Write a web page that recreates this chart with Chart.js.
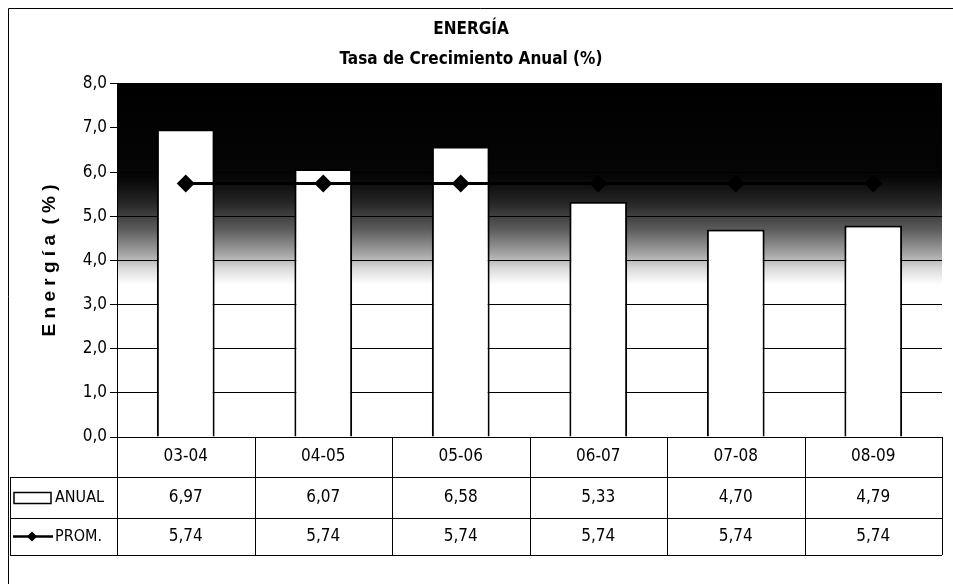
<!DOCTYPE html>
<html>
<head>
<meta charset="utf-8">
<script src="https://cdn.jsdelivr.net/npm/chart.js@4"></script>
<style>
  html, body { margin: 0; padding: 0; background: #fff; }
  #wrap { width: 953px; height: 584px; }
</style>
</head>
<body>
<div id="wrap"><canvas id="energyChart" width="953" height="584"></canvas></div>
<script>
const periods = ["03-04", "04-05", "05-06", "06-07", "07-08", "08-09"];
const anual = [6.97, 6.07, 6.58, 5.33, 4.70, 4.79];
const prom = [5.74, 5.74, 5.74, 5.74, 5.74, 5.74];
const yTicks = [0, 1, 2, 3, 4, 5, 6, 7, 8];

const narrow = "'Liberation Sans Narrow', 'Arial Narrow', 'DejaVu Sans Condensed', Arial, sans-serif";
const fmt = v => v.toFixed(1).replace('.', ',');
const fmt2 = v => v.toFixed(2).replace('.', ',');

// white page + dark-to-white gradient in the plot area
const backdrop = {
    id: 'backdrop',
    beforeDraw(chart) {
        const { ctx, chartArea: a, scales: { y } } = chart;
        ctx.save();
        ctx.fillStyle = '#fff';
        ctx.fillRect(0, 0, chart.width, chart.height);
        const top = 8, low = 3.45, span = top - low;
        const g = ctx.createLinearGradient(0, y.getPixelForValue(top), 0, y.getPixelForValue(low));
        g.addColorStop(0, '#000');
        g.addColorStop((top - 5.9) / span, '#050505');
        g.addColorStop((top - 5.3) / span, '#262626');
        g.addColorStop((top - 4.7) / span, '#5c5c5c');
        g.addColorStop((top - 4.15) / span, '#a4a4a4');
        g.addColorStop((top - 3.8) / span, '#dcdcdc');
        g.addColorStop(1, '#fff');
        ctx.fillStyle = g;
        ctx.fillRect(a.left, a.top, a.right - a.left, a.bottom - a.top);
        ctx.restore();
    }
};

// data table under the plot + frame
const dataTable = {
    id: 'dataTable',
    afterDraw(chart) {
        const { ctx, chartArea: a, scales: { x } } = chart;
        const colW = (a.right - a.left) / periods.length;
        const rows = [a.bottom, a.bottom + 40, a.bottom + 81, a.bottom + 118];
        const legLeft = 10;
        ctx.save();
        ctx.strokeStyle = '#000';
        ctx.lineWidth = 1;
        ctx.beginPath();
        // horizontal rules
        ctx.moveTo(a.left, rows[0] + 0.5); ctx.lineTo(a.right, rows[0] + 0.5);
        for (let r = 1; r < rows.length; r++) {
            ctx.moveTo(legLeft, rows[r] + 0.5); ctx.lineTo(a.right, rows[r] + 0.5);
        }
        // vertical rules
        for (let i = 0; i <= periods.length; i++) {
            const px = Math.round(a.left + i * colW) + 0.5;
            ctx.moveTo(px, rows[0]); ctx.lineTo(px, rows[3]);
        }
        ctx.moveTo(legLeft + 0.5, rows[1]); ctx.lineTo(legLeft + 0.5, rows[3]);
        // outer frame (top and left)
        ctx.moveTo(8.5, 8.5); ctx.lineTo(953, 8.5);
        ctx.moveTo(8.5, 8.5); ctx.lineTo(8.5, 584);
        ctx.stroke();

        ctx.fillStyle = '#000';
        ctx.font = '17px ' + narrow;
        ctx.textAlign = 'center';
        ctx.textBaseline = 'middle';
        periods.forEach((p, i) => {
            const cx = x.getPixelForValue(i);
            ctx.fillText(p, cx, (rows[0] + rows[1]) / 2);
            ctx.fillText(fmt2(anual[i]), cx, (rows[1] + rows[2]) / 2);
            ctx.fillText(fmt2(prom[i]), cx, (rows[2] + rows[3]) / 2);
        });

        // legend keys
        const my1 = (rows[1] + rows[2]) / 2, my2 = (rows[2] + rows[3]) / 2;
        ctx.lineWidth = 1.5;
        ctx.strokeRect(14, my1 - 5, 37, 11);
        ctx.lineWidth = 2.5;
        ctx.beginPath();
        ctx.moveTo(13, my2); ctx.lineTo(53, my2);
        ctx.stroke();
        ctx.beginPath();
        ctx.moveTo(32, my2 - 5); ctx.lineTo(37, my2); ctx.lineTo(32, my2 + 5); ctx.lineTo(27, my2);
        ctx.closePath();
        ctx.fill();
        ctx.textAlign = 'left';
        ctx.font = '16px ' + narrow;
        ctx.fillText('ANUAL', 55, my1);
        ctx.fillText('PROM.', 55, my2);
        ctx.restore();
    }
};

new Chart(document.getElementById('energyChart'), {
    type: 'bar',
    data: {
        labels: periods,
        datasets: [{
            label: 'ANUAL',
            data: anual,
            backgroundColor: '#fff',
            borderColor: '#000',
            borderWidth: 2,
            categoryPercentage: 1,
            barPercentage: 0.42,
            order: 2
        }, {
            type: 'line',
            label: 'PROM.',
            data: prom,
            borderColor: '#000',
            backgroundColor: '#000',
            borderWidth: 3,
            pointStyle: 'rectRot',
            pointRadius: 9,
            pointBorderWidth: 0,
            fill: false,
            order: 1
        }]
    },
    options: {
        responsive: false,
        animation: false,
        layout: { padding: { top: 19, right: 11, bottom: 147, left: 0 } },
        plugins: {
            legend: { display: false },
            tooltip: { enabled: false },
            title: {
                display: true,
                text: 'ENERGÍA',
                color: '#000',
                font: { family: narrow, size: 17, weight: 'bold' },
                padding: { top: 0, bottom: 10 }
            },
            subtitle: {
                display: true,
                text: 'Tasa de Crecimiento Anual (%)',
                color: '#000',
                font: { family: narrow, size: 17, weight: 'bold' },
                padding: { top: 0, bottom: 14 }
            }
        },
        scales: {
            x: {
                display: false,
                offset: true
            },
            y: {
                min: 0,
                max: 8,
                afterBuildTicks(scale) { scale.ticks = yTicks.map(v => ({ value: v })); },
                afterFit(scale) { scale.width = 117; },
                border: { color: '#000', width: 1 },
                grid: { color: '#000', lineWidth: 1, tickLength: 7, drawTicks: true },
                ticks: {
                    color: '#000',
                    padding: 3,
                    font: { family: narrow, size: 17 },
                    callback: v => fmt(v)
                },
                title: {
                    display: true,
                    text: 'E n e r g í a  ( % )',
                    color: '#000',
                    font: { family: "'Liberation Sans', Arial, sans-serif", size: 19, weight: 'bold' },
                    padding: { top: 38, bottom: 0 }
                }
            }
        }
    },
    plugins: [backdrop, dataTable]
});
</script>
</body>
</html>
